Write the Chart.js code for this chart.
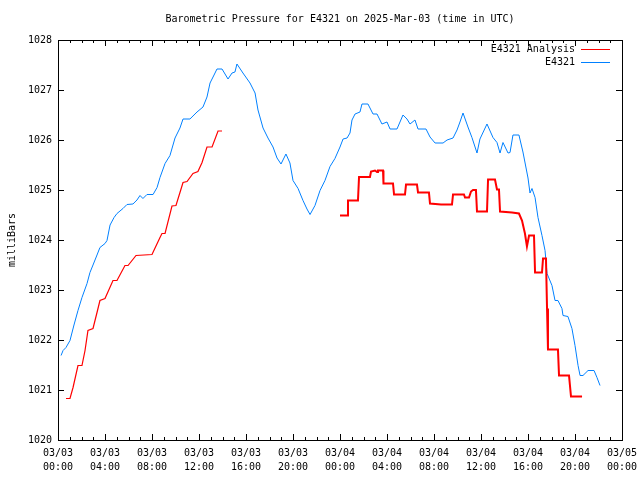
<!DOCTYPE html>
<html>
<head>
<meta charset="utf-8">
<script src="https://cdn.jsdelivr.net/npm/chart.js@4/dist/chart.umd.min.js"></script>
<style>
  html, body { margin: 0; padding: 0; background: #ffffff; }
  #wrap { width: 640px; height: 480px; }
</style>
</head>
<body>
<div id="wrap"><canvas id="c" width="640" height="480"></canvas></div>
<script>
// ---------- DATA ----------
const chartTitle = "Barometric Pressure for E4321 on 2025-Mar-03 (time in UTC)";
const yAxisTitle = "milliBars";
const seriesNames = ["E4321 Analysis", "E4321"];

// x tick labels (every 4 hours from 03/03 00:00 to 03/05 00:00)
const tickDates = ["03/03","03/03","03/03","03/03","03/03","03/03","03/04","03/04","03/04","03/04","03/04","03/04","03/05"];
const tickTimes = ["00:00","04:00","08:00","12:00","16:00","20:00","00:00","04:00","08:00","12:00","16:00","20:00","00:00"];

// Station observations: hours since 03/03 00:00 UTC, pressure (mb)
const stationHours = [0.26,0.43,0.68,1.02,1.36,1.70,2.04,2.47,2.72,2.98,3.32,3.57,4.00,4.17,4.43,4.77,5.02,5.53,5.87,6.38,6.72,6.98,7.23,7.57,8.09,8.43,8.68,9.11,9.53,9.96,10.38,10.64,11.23,11.83,12.34,12.68,12.94,13.28,13.53,13.96,14.47,14.81,15.06,15.23,15.74,16.34,16.77,17.02,17.45,17.87,18.30,18.64,18.98,19.40,19.74,20.00,20.43,20.85,21.19,21.45,21.87,22.30,22.72,23.15,23.57,24.00,24.26,24.60,24.85,25.02,25.28,25.70,25.87,26.38,26.81,27.15,27.57,28.00,28.26,28.85,29.36,29.70,29.96,30.38,30.64,31.32,31.66,32.09,32.77,33.11,33.62,33.96,34.21,34.47,34.89,35.23,35.66,35.91,36.51,37.02,37.36,37.62,37.87,38.30,38.47,38.72,39.23,39.57,40.00,40.17,40.34,40.60,40.85,41.19,41.45,41.62,42.04,42.30,42.55,42.89,42.98,43.40,43.74,44.00,44.26,44.43,44.68,45.11,45.62,45.87,46.13];
const stationValues = [1021.69,1021.79,1021.85,1021.99,1022.30,1022.59,1022.85,1023.13,1023.35,1023.50,1023.70,1023.85,1023.93,1023.99,1024.30,1024.45,1024.53,1024.63,1024.71,1024.72,1024.80,1024.89,1024.83,1024.91,1024.91,1025.05,1025.25,1025.53,1025.69,1026.04,1026.24,1026.42,1026.42,1026.56,1026.66,1026.86,1027.14,1027.30,1027.42,1027.42,1027.22,1027.34,1027.36,1027.52,1027.34,1027.14,1026.94,1026.60,1026.24,1026.04,1025.86,1025.64,1025.52,1025.72,1025.54,1025.19,1025.03,1024.79,1024.62,1024.51,1024.69,1024.99,1025.19,1025.47,1025.63,1025.86,1026.02,1026.04,1026.14,1026.40,1026.52,1026.56,1026.72,1026.72,1026.52,1026.52,1026.32,1026.36,1026.22,1026.22,1026.50,1026.42,1026.32,1026.40,1026.22,1026.22,1026.06,1025.94,1025.94,1026.00,1026.04,1026.20,1026.36,1026.54,1026.26,1026.05,1025.74,1026.02,1026.32,1026.05,1025.95,1025.74,1025.95,1025.74,1025.75,1026.10,1026.10,1025.76,1025.24,1024.94,1025.03,1024.85,1024.45,1024.09,1023.79,1023.33,1023.09,1022.79,1022.79,1022.63,1022.49,1022.47,1022.23,1021.89,1021.49,1021.29,1021.29,1021.39,1021.39,1021.25,1021.09];

// Analysis: hours since 03/03 00:00 UTC, pressure (mb); null marks the gap
const analysisHours = [0.68,1.02,1.28,1.70,2.04,2.30,2.55,2.98,3.32,3.57,4.00,4.68,5.02,5.70,5.96,6.64,8.00,8.68,8.85,9.11,9.70,10.04,10.38,10.64,10.98,11.49,11.91,12.26,12.68,13.11,13.62,13.96,
  19.00,
  24.00,24.60,24.68,25.53,25.62,26.55,26.64,26.98,27.15,27.23,27.66,27.70,28.51,28.60,29.53,29.62,30.55,30.64,31.57,31.66,32.60,33.53,33.62,34.55,34.64,34.98,35.15,35.32,35.57,35.66,36.51,36.60,37.19,37.36,37.53,37.62,38.64,39.23,39.49,39.74,39.91,40.09,40.51,40.60,41.19,41.28,41.53,41.62,41.70,42.55,42.64,43.49,43.66,44.60];
const analysisValues = [1020.83,1020.83,1021.05,1021.49,1021.49,1021.79,1022.19,1022.23,1022.55,1022.79,1022.83,1023.19,1023.19,1023.49,1023.49,1023.69,1023.71,1024.05,1024.13,1024.13,1024.68,1024.69,1024.95,1025.15,1025.17,1025.33,1025.37,1025.55,1025.86,1025.86,1026.18,1026.18,
  null,
  1024.49,1024.49,1024.79,1024.79,1025.26,1025.26,1025.37,1025.39,1025.36,1025.39,1025.39,1025.13,1025.13,1024.91,1024.91,1025.11,1025.11,1024.95,1024.95,1024.73,1024.71,1024.71,1024.91,1024.91,1024.85,1024.85,1024.97,1025.00,1025.00,1024.57,1024.57,1025.21,1025.21,1025.01,1025.01,1024.57,1024.55,1024.53,1024.39,1024.13,1023.87,1024.09,1024.09,1023.35,1023.35,1023.63,1023.63,1022.63,1021.81,1021.81,1021.29,1021.29,1020.87,1020.87];

// ---------- CHART ----------
const FONT = "'DejaVu Sans Mono', 'Liberation Mono', monospace";
const toPoints = (xs, ys) => xs.map((x, i) => ({ x: x, y: ys[i] }));

const frameAndTicks = {
  id: 'frameAndTicks',
  afterDatasetsDraw(chart) {
    const { ctx, chartArea: a, scales } = chart;
    const xs = scales.x, ys = scales.y;
    ctx.save();
    ctx.strokeStyle = '#000000';
    ctx.lineWidth = 1;
    ctx.beginPath();
    for (let h = xs.min; h <= xs.max; h += 1) {
      const px = Math.round(xs.getPixelForValue(h)) + 0.5;
      const len = (h % 4 === 0) ? 6 : 3;
      ctx.moveTo(px, a.bottom); ctx.lineTo(px, a.bottom - len);
      ctx.moveTo(px, a.top); ctx.lineTo(px, a.top + len);
    }
    for (let v = ys.min; v <= ys.max; v += 1) {
      const py = Math.round(ys.getPixelForValue(v)) + 0.5;
      ctx.moveTo(a.left, py); ctx.lineTo(a.left + 6, py);
      ctx.moveTo(a.right, py); ctx.lineTo(a.right - 6, py);
    }
    ctx.stroke();
    ctx.strokeRect(Math.round(a.left) + 0.5, Math.round(a.top) + 0.5,
                   Math.round(a.right - a.left), Math.round(a.bottom - a.top));
    ctx.font = '10px ' + FONT;
    ctx.textAlign = 'right';
    ctx.textBaseline = 'middle';
    chart.data.datasets.forEach((ds, i) => {
      const y = Math.round(a.top + 9 + i * 13) + 0.5;
      ctx.fillStyle = '#000000';
      ctx.fillText(ds.label, a.right - 47, y);
      ctx.strokeStyle = ds.borderColor;
      ctx.lineWidth = 1;
      ctx.beginPath();
      ctx.moveTo(a.right - 41, y); ctx.lineTo(a.right - 12, y);
      ctx.stroke();
    });
    ctx.restore();
  }
};

new Chart(document.getElementById('c'), {
  type: 'line',
  data: {
    datasets: [
      {
        label: seriesNames[0],
        data: toPoints(analysisHours, analysisValues),
        borderColor: '#ff0000',
        borderWidth: 1.5,
        segment: { borderWidth: ctx => (ctx.p0.parsed.x > 20 ? 2 : 1.2) },
        pointRadius: 0,
        tension: 0,
        spanGaps: false,
        fill: false
      },
      {
        label: seriesNames[1],
        data: toPoints(stationHours, stationValues),
        borderColor: '#0080ff',
        borderWidth: 1,
        pointRadius: 0,
        tension: 0,
        fill: false
      }
    ]
  },
  options: {
    responsive: false,
    animation: false,
    devicePixelRatio: 1,
    layout: { padding: { left: 0, right: 18, top: 0, bottom: 0 } },
    plugins: {
      legend: { display: false },
      tooltip: { enabled: false },
      title: {
        display: true,
        text: chartTitle,
        fullSize: false,
        color: '#000000',
        font: { family: FONT, size: 10, weight: 'normal' },
        padding: { top: 13, bottom: 15 }
      }
    },
    scales: {
      x: {
        type: 'linear',
        min: 0,
        max: 48,
        afterFit: (s) => { s.height = 40; s.paddingRight = 0; s.paddingLeft = 0; },
        ticks: {
          stepSize: 4,
          autoSkip: false,
          maxRotation: 0,
          padding: 6,
          color: '#000000',
          font: { family: FONT, size: 10, lineHeight: 1.4 },
          callback: (v) => { const i = Math.round(v / 4); return [tickDates[i], tickTimes[i]]; }
        },
        grid: { display: true, drawOnChartArea: false, drawTicks: false },
        border: { display: false }
      },
      y: {
        type: 'linear',
        min: 1020,
        max: 1028,
        afterFit: (s) => { s.width = 58; s.paddingTop = 0; s.paddingBottom = 0; },
        ticks: {
          stepSize: 1,
          padding: 6,
          color: '#000000',
          font: { family: FONT, size: 10 },
          callback: (v) => String(v)
        },
        title: {
          display: true,
          text: yAxisTitle,
          color: '#000000',
          font: { family: FONT, size: 10 },
          padding: { top: 6, bottom: 0 }
        },
        grid: { display: true, drawOnChartArea: false, drawTicks: false },
        border: { display: false }
      }
    }
  },
  plugins: [frameAndTicks]
});
</script>
</body>
</html>
